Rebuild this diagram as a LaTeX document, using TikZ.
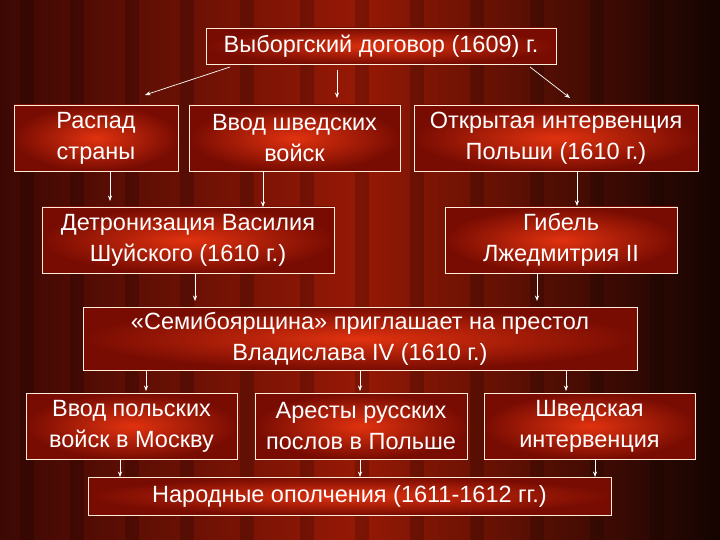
\documentclass[tikz,border=0pt]{standalone}
\usepackage{fontspec}
\setmainfont{Liberation Sans}
\usetikzlibrary{arrows.meta}

\tikzset{
    evbox/.style={draw=white!85!orange, line width=0.8pt, inner color={rgb,255:red,225;green,50;blue,15},
        outer color={rgb,255:red,120;green,12;blue,2}, text=white, align=center,
        font=\fontsize{23.5}{31}\selectfont, inner sep=0pt},
    evarrow/.style={-{Stealth[scale=0.9]}, white, line width=0.7pt}
}

\begin{document}
\begin{tikzpicture}[x=1pt,y=-1pt]
    \useasboundingbox (0,0) rectangle (720,540);
    % curtain background
    \fill[black!90!red] (0,0) rectangle (720,540);
    \shade[left color={rgb,255:red,60;green,8;blue,4}, right color={rgb,255:red,150;green,25;blue,5}] (0,0) rectangle (360,540);
    \shade[left color={rgb,255:red,150;green,25;blue,5}, right color={rgb,255:red,20;green,4;blue,2}] (360,0) rectangle (720,540);
    \foreach \sx in {20,70,125,180,240,300,355,410,470,530,590,650}
    {
        \fill[black, opacity=0.18] (\sx,0) rectangle ++(14,540);
    };

    \node[evbox, minimum width=350, minimum height=36] (nTreaty) at (381,46) {Выборгский договор (1609) г.};
    \node[evbox, minimum width=164, minimum height=66] (nCollapse) at (96,138) {Распад\\страны};
    \node[evbox, minimum width=211, minimum height=66] (nSwedes) at (294.5,138) {Ввод шведских\\войск};
    \node[evbox, minimum width=284, minimum height=66] (nPoland) at (556,138) {Открытая интервенция\\Польши  (1610 г.)};
    \node[evbox, minimum width=292, minimum height=66] (nShuisky) at (188,240) {Детронизация Василия\\Шуйского (1610 г.)};
    \node[evbox, minimum width=232, minimum height=66] (nFalse) at (561,240) {Гибель\\Лжедмитрия II};
    \node[evbox, minimum width=554, minimum height=63] (nBoyars) at (360,338.5) {«Семибоярщина» приглашает на престол\\Владислава IV  (1610 г.)};
    \node[evbox, minimum width=211, minimum height=66] (nMoscow) at (131.5,426) {Ввод польских\\войск в Москву};
    \node[evbox, minimum width=212, minimum height=66] (nArrests) at (361,426) {Аресты русских\\послов в Польше};
    \node[evbox, minimum width=211, minimum height=66] (nSweden) at (589.5,426) {Шведская\\интервенция};
    \node[evbox, minimum width=523, minimum height=38] (nMilitia) at (349.5,496) {Народные ополчения (1611-1612 гг.)};

    % arrows
    \draw[evarrow] (230,67) -- (145,95);
    \draw[evarrow] (337,70) -- (337,98);
    \draw[evarrow] (530,67) -- (570,98);
    \foreach \ax/\ay/\bx/\by in
    {110/171/110/201,
     263/171/263/207,
     577/171/577/206,
     195/273/195/301,
     537/273/537/301,
     146/370/146/391,
     360/370/360/391,
     566/370/566/391,
     120/459/120/477,
     360/459/360/477,
     595/459/595/477
    }
    {
        \draw[evarrow] (\ax,\ay) -- (\bx,\by);
    };
\end{tikzpicture}
\end{document}
